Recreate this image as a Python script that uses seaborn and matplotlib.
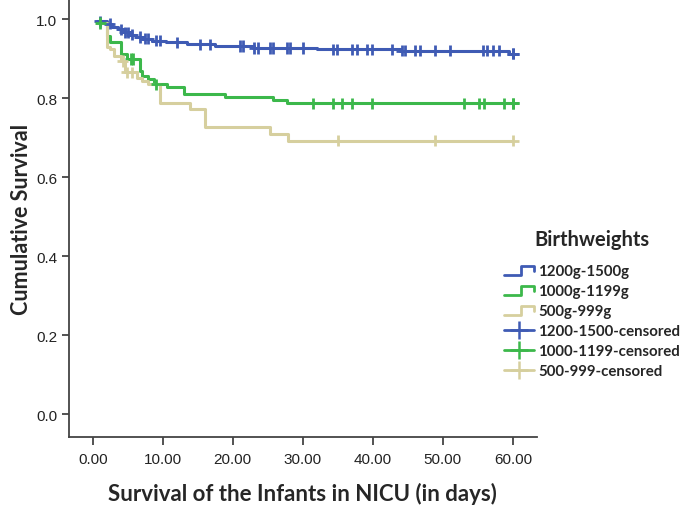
import numpy as np
import pandas as pd
import matplotlib
matplotlib.use("Agg")
import matplotlib.pyplot as plt
import seaborn as sns
from matplotlib.lines import Line2D
from matplotlib.legend_handler import HandlerBase

# ---------------- data ----------------
groups = ["1200g-1500g", "1000g-1199g", "500g-999g"]
censor_labels = ["1200-1500-censored", "1000-1199-censored", "500-999-censored"]
colors = ["#3f5bb4", "#3cb84b", "#d6cf9e"]

blue_t = [0.6, 2.0, 2.8, 3.6, 4.4, 5.2, 6.2, 7.2, 8.5, 10.5, 13.5, 17.5, 23.0, 32.0, 44.0, 59.5, 60.0]
blue_s = [0.995, 0.988, 0.981, 0.974, 0.967, 0.961, 0.955, 0.950, 0.945, 0.941, 0.936, 0.932, 0.927, 0.924, 0.920, 0.913, 0.913]
blue_c = [1.0, 2.4, 4.1, 4.6, 5.0, 5.6, 6.7, 7.4, 7.9, 9.1, 9.6, 12.0, 15.3, 16.7, 21.0, 21.4,
          23.1, 23.6, 25.3, 25.7, 27.7, 28.1, 30.0, 34.3, 34.9, 37.0, 37.7, 39.1, 39.9, 42.7,
          44.1, 44.6, 46.0, 46.7, 48.9, 51.0, 55.7, 56.3, 57.1, 58.0, 60.0, 60.0]

green_t = [0.6, 2.0, 2.4, 4.1, 4.9, 6.7, 7.1, 7.9, 8.7, 10.6, 13.1, 18.9, 25.7, 27.7, 60.0]
green_s = [0.99, 0.958, 0.941, 0.911, 0.899, 0.869, 0.857, 0.848, 0.835, 0.827, 0.810, 0.803, 0.795, 0.787, 0.787]
green_c = [1.1, 5.4, 5.7, 9.1, 31.4, 34.3, 35.6, 37.0, 39.9, 53.0, 55.1, 55.9, 58.7, 60.0, 60.0]

yellow_t = [0.6, 2.0, 2.4, 3.1, 4.1, 4.6, 6.3, 7.1, 7.9, 9.6, 13.9, 16.0, 25.3, 27.9, 60.0]
yellow_s = [0.99, 0.929, 0.924, 0.907, 0.894, 0.865, 0.852, 0.844, 0.835, 0.787, 0.772, 0.726, 0.709, 0.692, 0.692]
yellow_c = [4.3, 4.9, 5.6, 35.0, 48.9, 60.0]

x_ticks = [0, 10, 20, 30, 40, 50, 60]
y_ticks = [0.0, 0.2, 0.4, 0.6, 0.8, 1.0]

# ---------------- build tables ----------------
curves = [(blue_t, blue_s, blue_c), (green_t, green_s, green_c), (yellow_t, yellow_s, yellow_c)]
line_rows, cens_rows = [], []
for g, (t, s, c) in zip(groups, curves):
    t = np.asarray(t); s = np.asarray(s)
    for ti, si in zip(t, s):
        line_rows.append({"time": ti, "surv": si, "group": g})
    for ci in c:
        idx = np.searchsorted(t, ci, side="right") - 1
        idx = max(idx, 0)
        cens_rows.append({"time": ci, "surv": s[idx], "group": g})
lines_df = pd.DataFrame(line_rows)
cens_df = pd.DataFrame(cens_rows)
palette = dict(zip(groups, colors))

# ---------------- plot ----------------
sns.set_style("white")
plt.rcParams["font.family"] = ["Liberation Sans", "DejaVu Sans"]
bold_family = ["Lato", "DejaVu Sans"]

fig = plt.figure(figsize=(6.82, 5.10), dpi=100)
ax = fig.add_axes([0.101, 0.141, 0.686, 0.859])

sns.lineplot(data=lines_df, x="time", y="surv", hue="group", palette=palette,
             estimator=None, sort=False, drawstyle="steps-post", linewidth=2.2,
             legend=False, ax=ax)
sns.scatterplot(data=cens_df, x="time", y="surv", hue="group", palette=palette,
                marker="+", s=65, linewidth=2.0, legend=False, ax=ax, zorder=3)

ax.set_xlim(-3.4, 63.4)
ax.set_ylim(-0.058, 1.051)
ax.set_xticks(x_ticks)
ax.set_xticklabels([f"{v:.2f}" for v in x_ticks])
ax.set_yticks(y_ticks)
ax.set_yticklabels([f"{v:.1f}" for v in y_ticks])

for side in ["top", "right"]:
    ax.spines[side].set_visible(False)
for side in ["left", "bottom"]:
    ax.spines[side].set_color("#444444")
    ax.spines[side].set_linewidth(1.3)
ax.tick_params(axis="both", direction="out", length=5, width=1.3, color="#444444",
               labelsize=11, labelcolor="#222222", bottom=True, left=True)
ax.tick_params(axis="x", length=6, pad=5)

ax.set_xlabel("Survival of the Infants in NICU (in days)", family=bold_family,
              fontweight="bold", fontsize=16, labelpad=11)
ax.set_ylabel("Cumulative Survival", family=bold_family,
              fontweight="bold", fontsize=15.5, labelpad=3)


class StepHandler(HandlerBase):
    def create_artists(self, legend, orig_handle, xdescent, ydescent, width, height, fontsize, trans):
        x0, y0 = -xdescent, -ydescent
        xs = [x0, x0 + 0.58 * width, x0 + 0.58 * width, x0 + width, x0 + width]
        ys = [y0 + 0.05 * height, y0 + 0.05 * height, y0 + 0.9 * height, y0 + 0.9 * height, y0 + 0.45 * height]
        ln = Line2D(xs, ys, color=orig_handle.get_color(), lw=orig_handle.get_linewidth())
        ln.set_transform(trans)
        return [ln]


step_handles = [Line2D([], [], color=c, lw=2.0) for c in colors]
cens_handles = [Line2D([], [], color=c, lw=2.0, marker="+", markersize=13, mew=1.8) for c in colors]
handler_map = {h: StepHandler() for h in step_handles}

leg = fig.legend(step_handles + cens_handles, groups + censor_labels,
                 handler_map=handler_map, loc="upper left",
                 bbox_to_anchor=(504 / 682, 1 - 230 / 510), frameon=False,
                 title="Birthweights", handlelength=2.0, handletextpad=0.3,
                 labelspacing=0.4, borderaxespad=0, borderpad=0,
                 prop={"family": bold_family, "weight": "bold", "size": 10.8})
leg.get_title().set_fontweight("bold")
leg.get_title().set_fontsize(14.5)
leg.get_title().set_family(bold_family)
leg._legend_box.sep = 11

fig.savefig("out.png", dpi=100)
